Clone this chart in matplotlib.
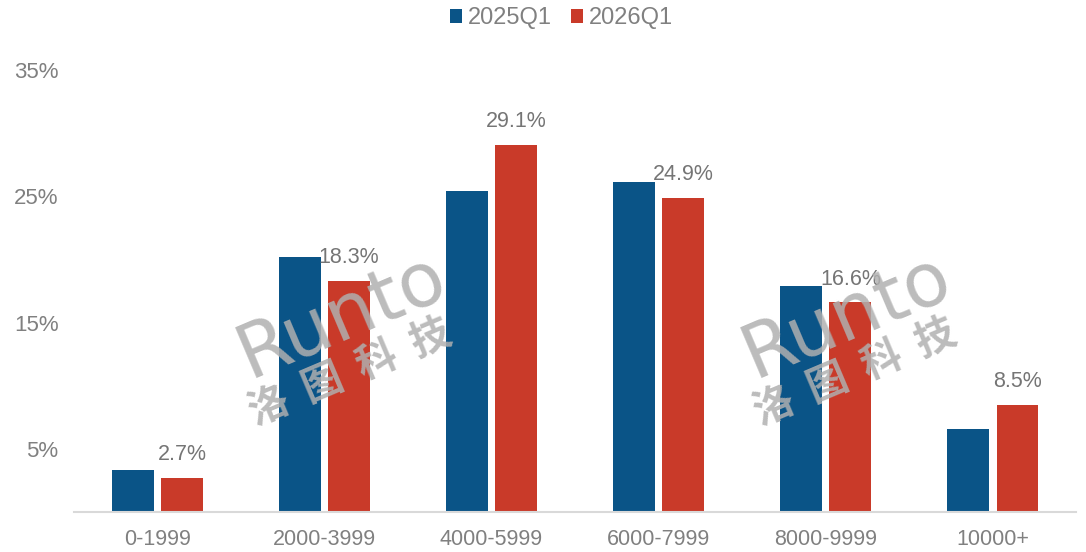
import matplotlib
matplotlib.use("Agg")
import matplotlib.pyplot as plt
import numpy as np

categories = ["0-1999", "2000-3999", "4000-5999", "6000-7999", "8000-9999", "10000+"]
series_names = ["2025Q1", "2026Q1"]
values_2025 = [3.3, 20.2, 25.4, 26.1, 17.9, 6.6]
values_2026 = [2.7, 18.3, 29.1, 24.9, 16.6, 8.5]
label_2026 = ["2.7%", "18.3%", "29.1%", "24.9%", "16.6%", "8.5%"]
yticks = [5, 15, 25, 35]
ytick_labels = ["5%", "15%", "25%", "35%"]

BLUE = "#0A5487"
RED = "#C93A29"
GRAY = "#808080"
FONT = ["Liberation Sans Narrow", "Liberation Sans", "DejaVu Sans"]
CJK = ["Noto Sans CJK SC", "DejaVu Sans"]

plt.rcParams["font.family"] = FONT

fig = plt.figure(figsize=(10.86, 5.52), dpi=100)
ax = fig.add_axes([0.068, 0.0725, 0.923, 0.8005])

x = np.arange(len(categories))
w = 0.25
off = 0.148
b1 = ax.bar(x - off, values_2025, width=w, color=BLUE, label=series_names[0], zorder=2)
b2 = ax.bar(x + off, values_2026, width=w, color=RED, label=series_names[1], zorder=2)

for xi, v, t in zip(x + off, values_2026, label_2026):
    ax.text(xi, v + 1.0, t, ha="center", va="bottom", fontsize=15.5, color="#757575", zorder=4)

ax.set_xlim(-0.5, len(categories) - 0.5)
ax.set_ylim(0, 35)
ax.set_yticks(yticks)
ax.set_yticklabels(ytick_labels)
ax.set_xticks(x)
ax.set_xticklabels(categories)
ax.tick_params(axis="y", length=0, pad=11, labelsize=16, labelcolor=GRAY)
ax.tick_params(axis="x", length=0, pad=12, labelsize=15.5, labelcolor=GRAY)
for s in ["top", "right", "left"]:
    ax.spines[s].set_visible(False)
ax.spines["bottom"].set_color("#D9D9D9")
ax.spines["bottom"].set_linewidth(1.5)

leg = fig.legend(handles=[b1, b2], labels=series_names, loc="upper center",
                 bbox_to_anchor=(0.517, 1.025), ncol=2, frameon=False,
                 fontsize=17, handlelength=0.5, handleheight=0.5,
                 handletextpad=0.25, columnspacing=0.8)
for t in leg.get_texts():
    t.set_color(GRAY)

# watermark
for dx in [0, 505]:
    fig.text((342 + dx) / 1086, 1 - 316 / 552, "Runto", fontsize=54, color="#B0B0B0",
             alpha=0.85, rotation=23, ha="center", va="center", family=["DejaVu Sans"],
             fontweight="normal", zorder=5)
    fig.text((350 + dx) / 1086, 1 - 372 / 552, "洛  图  科  技", fontsize=29, color="#B0B0B0",
             alpha=0.85, rotation=23, ha="center", va="center", family=CJK,
             fontweight="bold", zorder=5)

fig.savefig("out.png", dpi=100)
